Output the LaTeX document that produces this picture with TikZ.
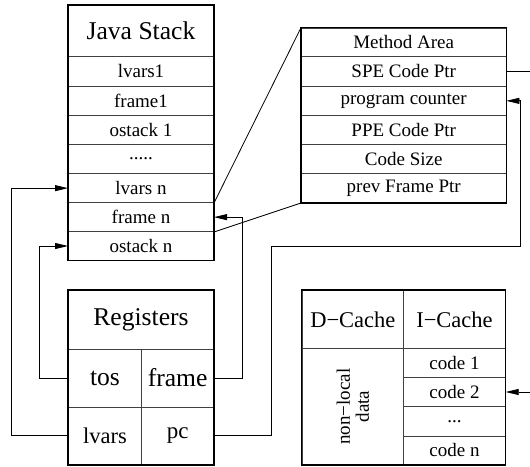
\documentclass[tikz,border=0pt]{standalone}
\usepackage{fontspec}
\setmainfont{Liberation Serif}
\usetikzlibrary{arrows.meta}
\begin{document}
\begin{tikzpicture}[x=1pt,y=-1pt,
  cell/.style={draw=black!75, line width=0.7pt, inner sep=0pt, anchor=north west, font=\fontsize{19}{22}\selectfont},
  outer/.style={draw=black, line width=1.1pt},
  conn/.style={draw=black, line width=0.8pt},
  arr/.style={conn, -{Triangle[length=13pt,width=6pt]}},
  big/.style={font=\fontsize{25.6}{28}\selectfont},
  mid/.style={font=\fontsize{22.5}{25}\selectfont}]
\useasboundingbox (0,0) rectangle (530,466);
% Java Stack
\node[cell, big, minimum width=145.3, minimum height=51] (js) at (68,5) {Java Stack};
\node[cell, minimum width=145.3, minimum height=30] (l1) at (68,56) {lvars1};
\node[cell, minimum width=145.3, minimum height=29] (f1) at (68,86) {frame1};
\node[cell, minimum width=145.3, minimum height=29] (o1) at (68,115) {ostack 1};
\node[cell, minimum width=145.3, minimum height=29.3] (dd) at (68,144) {.....};
\node[cell, minimum width=145.3, minimum height=29] (ln) at (68,173.3) {lvars n};
\node[cell, minimum width=145.3, minimum height=29] (fn) at (68,202.3) {frame n};
\node[cell, minimum width=145.3, minimum height=28.7] (on) at (68,231.3) {ostack n};
\draw[outer] (js.north west) rectangle (on.south east);
% Method Area
\node[cell, minimum width=204.7, minimum height=28.3] (ma) at (301,27.7) {Method Area};
\node[cell, minimum width=204.7, minimum height=30] (spe) at (301,56) {SPE Code Ptr};
\node[cell, minimum width=204.7, minimum height=29] (pcm) at (301,86) {program counter};
\node[cell, minimum width=204.7, minimum height=29] (ppe) at (301,115) {PPE Code Ptr};
\node[cell, minimum width=204.7, minimum height=29.3] (cs) at (301,144) {Code Size};
\node[cell, minimum width=204.7, minimum height=29] (pf) at (301,173.3) {prev Frame Ptr};
\draw[outer] (ma.north west) rectangle (pf.south east);
% Registers
\node[cell, big, minimum width=145.3, minimum height=58.7] (reg) at (68,290) {Registers};
\node[cell, big, minimum width=73.3, minimum height=58] (tos) at (68,348.7) {tos};
\node[cell, big, minimum width=72, minimum height=58] (rfr) at (141.3,348.7) {frame};
\node[cell, minimum width=73.3, minimum height=57.6, font=\fontsize{22.5}{25}\selectfont] (rlv) at (68,406.7) {lvars};
\node[cell, minimum width=72, minimum height=57.6, font=\fontsize{23}{25}\selectfont] (rpc) at (141.3,406.7) {pc};
\draw[outer] (reg.north west) rectangle (rpc.south east);
% Caches
\node[cell, mid, minimum width=101.6, minimum height=58.3] (dc) at (301.7,290) {D−Cache};
\node[cell, mid, minimum width=101.7, minimum height=58.3] (ic) at (403.3,290) {I−Cache};
\node[cell, minimum width=101.6, minimum height=116] (nl) at (301.7,348.3) {};
\node[rotate=90, align=center, inner sep=0pt, font=\fontsize{19}{19}\selectfont] (nlt) at (nl.center) {non−local\\data};
\node[cell, minimum width=101.7, minimum height=29] (c1) at (403.3,348.3) {code 1};
\node[cell, minimum width=101.7, minimum height=28.7] (c2) at (403.3,377.3) {code 2};
\node[cell, minimum width=101.7, minimum height=29.7] (cd) at (403.3,406) {...};
\node[cell, minimum width=101.7, minimum height=28.6] (cn) at (403.3,435.7) {code n};
\draw[outer] (dc.north west) rectangle (cn.south east);
% connectors
\draw[conn] (ln.south east) -- (ma.north west);
\draw[conn] (fn.south east) -- (pf.south west);
\coordinate (xl) at (11,0);
\coordinate (xt) at (39.3,0);
\coordinate (xf) at (242.7,0);
\coordinate (p1) at (271.7,246);
\coordinate (p2) at (520,246);
\coordinate (xr) at (530,0);
\draw[arr] (rlv.west) -- (rlv.west -| xl) |- (ln.west);
\draw[arr] (tos.west) -- (tos.west -| xt) |- (on.west);
\draw[arr] (rfr.east) -- (rfr.east -| xf) |- (fn.east);
\draw[arr] (rpc.east) -| (p1) -- (p2) |- (pcm.east);
\draw[conn] (spe.east) -- (spe.east -| xr);
\draw[arr] (c2.east -| xr) -- (c2.east);
\end{tikzpicture}
\end{document}
